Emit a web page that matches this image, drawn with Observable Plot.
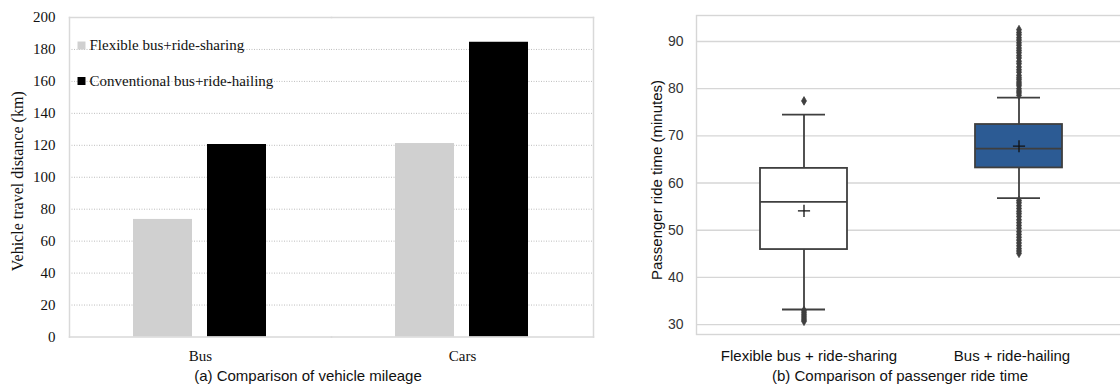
<!DOCTYPE html>
<html>
<head>
<meta charset="utf-8">
<script src="https://cdn.jsdelivr.net/npm/d3@7"></script>
<script src="https://cdn.jsdelivr.net/npm/@observablehq/plot@0.6"></script>
<style>
  html, body { margin: 0; padding: 0; background: #fff; overflow: hidden; }
  #wrap { position: relative; width: 1130px; height: 386px; }
  #left { position: absolute; left: 0; top: 0; }
  #right { position: absolute; left: 600px; top: 0; }
  .cap { position: absolute; top: 367px; font: 15px "Liberation Sans", Arial, sans-serif; color: #111; white-space: nowrap; transform: translateX(-50%); line-height: 18px; }
</style>
</head>
<body>
<div id="wrap">
  <div id="left"></div>
  <div id="right"></div>
  <div class="cap" style="left:308px">(a) Comparison of vehicle mileage</div>
  <div class="cap" style="left:900px">(b) Comparison of passenger ride time</div>
</div>
<script>
// ---- Panel (a) data ----
const categories = ["Bus", "Cars"];
const series = ["Flexible bus+ride-sharing", "Conventional bus+ride-hailing"];
const flexibleValues = [73.6, 121.1];
const conventionalValues = [120.5, 184.5];
const yTicksA = [0, 20, 40, 60, 80, 100, 120, 140, 160, 180, 200];
const gridTicksA = [20, 40, 60, 80, 100, 120, 140, 160, 180];

// ---- Panel (b) data ----
const boxCats = ["Flexible bus + ride-sharing", "Bus + ride-hailing"];
const whiskerLow = [33.2, 56.8];
const q1 = [45.9, 63.2];
const median = [56.0, 67.3];
const q3 = [63.1, 72.4];
const whiskerHigh = [74.5, 78.1];
const means = [54.1, 67.8];
const outliersFlexible = [77.4, 33.0, 32.6, 32.2, 31.8, 31.4, 31.0, 30.7];
const outliersBus = [78.6, 79.1, 79.5, 80.0, 80.6, 81.0, 81.4, 81.9, 82.3, 82.8, 83.5, 84.0, 84.6, 85.3, 85.8, 86.5, 87.0, 87.6, 88.1, 88.6, 89.2, 89.7, 90.3, 90.8, 91.4, 91.9, 92.5,
  56.3, 55.8, 55.2, 54.6, 54.0, 53.5, 52.9, 52.2, 51.6, 51.0, 50.4, 49.7, 49.1, 48.5, 47.9, 47.3, 46.7, 46.1, 45.6, 45.1];
const yTicksB = [30, 40, 50, 60, 70, 80, 90];

// ---- Build tables ----
const barData = [];
categories.forEach((c, i) => {
  barData.push({category: c, series: series[0], value: flexibleValues[i]});
  barData.push({category: c, series: series[1], value: conventionalValues[i]});
});
const boxData = boxCats.map((c, i) => ({cat: c, lo: whiskerLow[i], q1: q1[i], med: median[i], q3: q3[i], hi: whiskerHigh[i], mean: means[i]}));
const outlierData = [
  ...outliersFlexible.map(v => ({cat: boxCats[0], v})),
  ...outliersBus.map(v => ({cat: boxCats[1], v}))
];

const serif = "'Liberation Serif', 'Times New Roman', serif";
const sans = "'Liberation Sans', Arial, sans-serif";
const frameGray = "#d9d9d9";

// ---- Panel (a) ----
const plotA = Plot.plot({
  width: 600, height: 386,
  marginLeft: 69, marginRight: 7, marginTop: 17, marginBottom: 49.5,
  style: {fontFamily: serif, fontSize: "15px", color: "#111", background: "#fff"},
  fx: {domain: categories, padding: 0, label: null},
  x: {domain: series, paddingInner: 0.2, paddingOuter: 0.847, axis: null},
  y: {domain: [0, 200]},
  color: {domain: series, range: ["#d0d0d0", "#000000"]},
  marks: [
    Plot.gridY(gridTicksA, {stroke: "#bdbdbd", strokeOpacity: 1, strokeDasharray: "1,1.5"}),
    Plot.barY(barData, {fx: "category", x: "series", y: "value", fill: "series"}),
    Plot.frame({anchor: "top", stroke: frameGray, strokeWidth: 1.5}),
    Plot.frame({anchor: "bottom", stroke: frameGray, strokeWidth: 1.5}),
    Plot.frame({anchor: "left", facetAnchor: "left", stroke: frameGray, strokeWidth: 1.5}),
    Plot.frame({anchor: "right", facetAnchor: "right", stroke: frameGray, strokeWidth: 1.5}),
    Plot.axisY({ticks: yTicksA, tickSize: 0, tickPadding: 14, label: null, fontSize: 15}),
    Plot.axisFx({anchor: "bottom", tickSize: 0, tickPadding: 13, label: null, fontSize: 15}),
    Plot.text(["Vehicle travel distance (km)"], {fx: ["Bus"], frameAnchor: "left", dx: -52, dy: 4, rotate: -90, textAnchor: "middle", lineAnchor: "middle", fontSize: 16}),
    Plot.dot([series[0]], {fx: ["Bus"], frameAnchor: "top-left", dx: 12, dy: 28, symbol: "square", r: 4.5, fill: "#d0d0d0"}),
    Plot.dot([series[1]], {fx: ["Bus"], frameAnchor: "top-left", dx: 12, dy: 63.5, symbol: "square", r: 4.5, fill: "#000"}),
    Plot.text([series[0]], {fx: ["Bus"], frameAnchor: "top-left", dx: 20, dy: 28, text: d => d, textAnchor: "start", lineAnchor: "middle", fontSize: 15}),
    Plot.text([series[1]], {fx: ["Bus"], frameAnchor: "top-left", dx: 20, dy: 63.5, text: d => d, textAnchor: "start", lineAnchor: "middle", fontSize: 15})
  ]
});
document.getElementById("left").append(plotA);

// ---- Panel (b) ----
const lineGray = "#3f3f3f";
const gridGray = "#d6d6d6";
const plotB = Plot.plot({
  width: 530, height: 386,
  marginLeft: 96, marginRight: 4, marginTop: 15, marginBottom: 52,
  style: {fontFamily: sans, fontSize: "14px", color: "#262626", background: "#fff"},
  x: {domain: boxCats, padding: 0},
  y: {domain: [27.9, 95.5]},
  marks: [
    Plot.gridY(yTicksB, {stroke: gridGray, strokeOpacity: 1, strokeWidth: 1.4}),
    Plot.frame({stroke: gridGray, strokeWidth: 1.4}),
    Plot.ruleX(boxData, {x: "cat", y1: "lo", y2: "hi", stroke: lineGray, strokeWidth: 1.8}),
    Plot.barY(boxData, {x: "cat", y1: "q1", y2: "q3", fill: ["#ffffff", "#2c5b94"], stroke: lineGray, strokeWidth: 1.8, insetLeft: 64, insetRight: 64}),
    Plot.tickY(boxData, {x: "cat", y: "med", stroke: lineGray, strokeWidth: 1.8, insetLeft: 64, insetRight: 64}),
    Plot.tickY(boxData, {x: "cat", y: "lo", stroke: lineGray, strokeWidth: 1.8, insetLeft: 86, insetRight: 86}),
    Plot.tickY(boxData, {x: "cat", y: "hi", stroke: lineGray, strokeWidth: 1.8, insetLeft: 86, insetRight: 86}),
    Plot.dot(outlierData, {x: "cat", y: "v", symbol: "diamond", r: 2.6, fill: lineGray, stroke: lineGray, strokeWidth: 0.8}),
    Plot.dot(boxData, {x: "cat", y: "mean", symbol: "plus", r: 4, stroke: "#111", strokeWidth: 1.3}),
    Plot.axisY({ticks: yTicksB, tickSize: 0, tickPadding: 13, label: null, fontSize: 14, fill: "#333"}),
    Plot.axisX({ticks: [boxCats[0]], tickSize: 0, tickPadding: 16, label: null, fontSize: 15, dx: 5, fill: "#111"}),
    Plot.axisX({ticks: [boxCats[1]], tickSize: 0, tickPadding: 16, label: null, fontSize: 15, dx: -7, fill: "#111"}),
    Plot.text(["Passenger ride time (minutes)"], {frameAnchor: "left", dx: -39, dy: 5, rotate: -90, textAnchor: "middle", lineAnchor: "middle", fontSize: 15, fill: "#111"})
  ]
});
document.getElementById("right").append(plotB);
</script>
</body>
</html>
